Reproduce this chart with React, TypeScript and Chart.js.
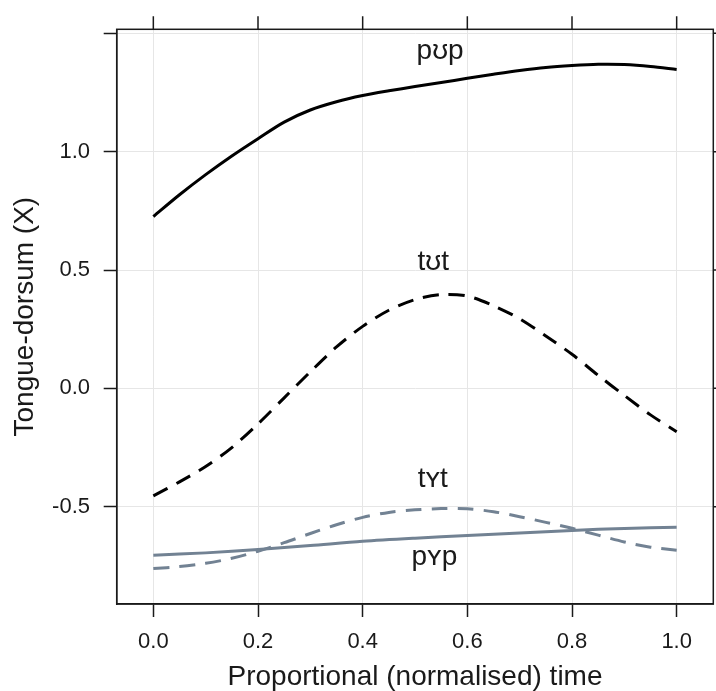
import React, { useEffect, useRef } from 'react';
import { Chart, registerables } from 'chart.js';

Chart.register(...registerables);

// ---- data ----
const timePoints = [0, 0.05, 0.1, 0.15, 0.2, 0.25, 0.3, 0.35, 0.4, 0.45, 0.5, 0.55, 0.6, 0.65, 0.7, 0.75, 0.8, 0.85, 0.9, 0.95, 1.0];
const pupValues = [0.726, 0.818, 0.903, 0.982, 1.055, 1.125, 1.176, 1.211, 1.237, 1.257, 1.275, 1.292, 1.31, 1.327, 1.343, 1.356, 1.364, 1.369, 1.368, 1.36, 1.347];
const tutValues = [-0.454, -0.395, -0.33, -0.25, -0.15, -0.04, 0.07, 0.175, 0.262, 0.33, 0.375, 0.396, 0.39, 0.349, 0.294, 0.221, 0.144, 0.055, -0.03, -0.112, -0.183];
const tytValues = [-0.761, -0.753, -0.739, -0.718, -0.688, -0.652, -0.613, -0.576, -0.545, -0.524, -0.513, -0.508, -0.509, -0.521, -0.542, -0.566, -0.591, -0.62, -0.649, -0.671, -0.684];
const pypTimes = [0, 0.1, 0.2, 0.3, 0.4, 0.5, 0.6, 0.7, 0.8, 0.9, 1.0];
const pypValues = [-0.705, -0.695, -0.681, -0.664, -0.646, -0.633, -0.622, -0.611, -0.6, -0.592, -0.587];

const xTicks = [0, 0.2, 0.4, 0.6, 0.8, 1.0];
const xTickLabels = ['0.0', '0.2', '0.4', '0.6', '0.8', '1.0'];
const yTicks = [-0.5, 0, 0.5, 1.0, 1.5];
const yTickLabels = ['-0.5', '0.0', '0.5', '1.0', ''];

const labelTexts = ['pʊp', 'tʊt', 'tʏt', 'pʏp'];
const labelX = [0.548, 0.535, 0.534, 0.537];
const labelY = [1.39, 0.5, -0.418, -0.745];

const FONT = '"Liberation Sans", Arial, Helvetica, sans-serif';
const INK = '#1a1a1a';
const GREY = '#728293';

const toPoints = (xs: number[], ys: number[]) => xs.map((x, i) => ({ x, y: ys[i] }));

const framePlugin = {
  id: 'frame',
  afterDraw(chart: any) {
    const { ctx, chartArea: a, scales } = chart;
    const x = scales.x;
    const y = scales.y;
    ctx.save();
    ctx.strokeStyle = INK;
    ctx.lineWidth = 1.5;
    ctx.strokeRect(a.left, a.top, a.right - a.left, a.bottom - a.top);
    ctx.beginPath();
    xTicks.forEach((v) => {
      const px = x.getPixelForValue(v);
      ctx.moveTo(px, a.top);
      ctx.lineTo(px, a.top - 13);
    });
    yTicks.forEach((v) => {
      const py = y.getPixelForValue(v);
      ctx.moveTo(a.right, py);
      ctx.lineTo(a.right + 13, py);
    });
    ctx.stroke();
    ctx.fillStyle = INK;
    ctx.font = `28px ${FONT}`;
    ctx.textAlign = 'center';
    ctx.textBaseline = 'alphabetic';
    labelTexts.forEach((t, i) => {
      ctx.fillText(t, x.getPixelForValue(labelX[i]), y.getPixelForValue(labelY[i]));
    });
    ctx.restore();
  },
};

export default function App() {
  const ref = useRef<HTMLCanvasElement | null>(null);

  useEffect(() => {
    if (!ref.current) return;
    const chart = new Chart(ref.current, {
      type: 'line',
      data: {
        datasets: [
          { label: 'pʊp', data: toPoints(timePoints, pupValues), borderColor: '#000', borderWidth: 3, pointRadius: 0, tension: 0.3, fill: false },
          { label: 'tʊt', data: toPoints(timePoints, tutValues), borderColor: '#000', borderWidth: 3, borderDash: [16, 10], pointRadius: 0, tension: 0.3, fill: false },
          { label: 'tʏt', data: toPoints(timePoints, tytValues), borderColor: GREY, borderWidth: 3, borderDash: [16, 10], pointRadius: 0, tension: 0.3, fill: false },
          { label: 'pʏp', data: toPoints(pypTimes, pypValues), borderColor: GREY, borderWidth: 3, pointRadius: 0, tension: 0.3, fill: false },
        ],
      },
      options: {
        responsive: false,
        animation: false,
        devicePixelRatio: 1,
        layout: { padding: { top: 29.3, right: 2.7, left: 0, bottom: 0 } },
        plugins: { legend: { display: false }, tooltip: { enabled: false } },
        scales: {
          x: {
            type: 'linear',
            min: -0.07,
            max: 1.07,
            afterBuildTicks: (s: any) => {
              s.ticks = xTicks.map((v) => ({ value: v }));
            },
            afterFit: (s: any) => {
              s.height = 87;
            },
            grid: { color: '#e6e6e6', lineWidth: 1, drawTicks: true, tickLength: 13, tickColor: INK, tickWidth: 1.5 },
            border: { display: true, color: INK, width: 1.5 },
            ticks: {
              color: INK,
              font: { family: FONT, size: 22 },
              padding: 12,
              maxRotation: 0,
              autoSkip: false,
              callback: (_v: any, i: number) => xTickLabels[i],
            },
            title: {
              display: true,
              text: 'Proportional (normalised) time',
              color: INK,
              font: { family: FONT, size: 28, lineHeight: 1 },
              padding: { top: 0, bottom: 0 },
            },
          },
          y: {
            type: 'linear',
            min: -0.911,
            max: 1.517,
            afterBuildTicks: (s: any) => {
              s.ticks = yTicks.map((v) => ({ value: v }));
            },
            afterFit: (s: any) => {
              s.width = 116.7;
            },
            grid: { color: '#e6e6e6', lineWidth: 1, drawTicks: true, tickLength: 13, tickColor: INK, tickWidth: 1.5 },
            border: { display: true, color: INK, width: 1.5 },
            ticks: {
              color: INK,
              font: { family: FONT, size: 22 },
              padding: 13.7,
              autoSkip: false,
              callback: (_v: any, i: number) => yTickLabels[i],
            },
            title: {
              display: true,
              text: 'Tongue-dorsum (X)',
              color: INK,
              font: { family: FONT, size: 28, lineHeight: 1 },
              padding: { top: 11, bottom: 0 },
            },
          },
        },
      },
      plugins: [framePlugin],
    } as any);
    return () => chart.destroy();
  }, []);

  return (
    <div style={{ position: 'absolute', left: 0, top: 0, width: 716, height: 691, background: '#fff' }}>
      <canvas ref={ref} width={716} height={691} style={{ display: 'block', width: 716, height: 691 }} />
    </div>
  );
}
